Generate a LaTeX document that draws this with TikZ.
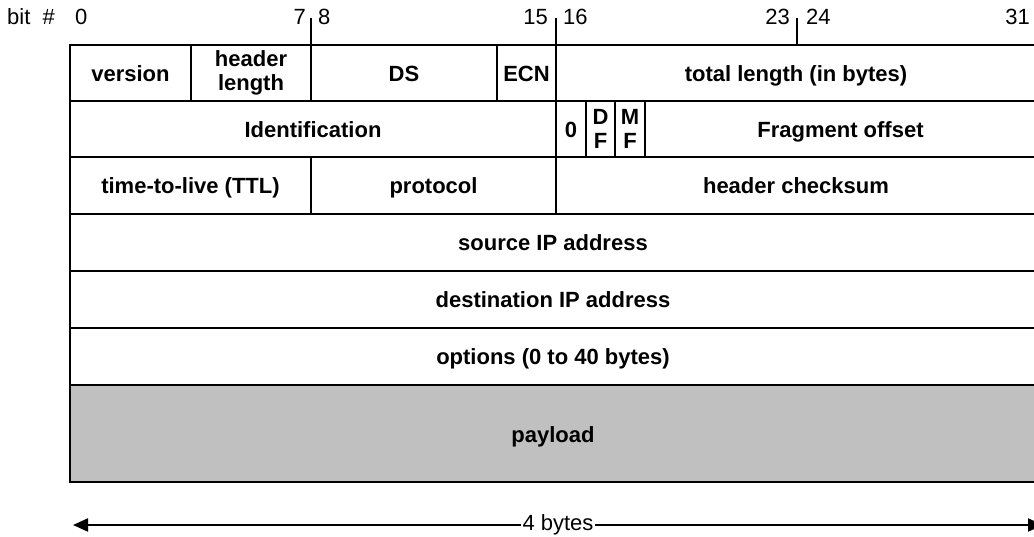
\documentclass[tikz,border=0pt]{standalone}
\usepackage{fontspec}
\setmainfont{Liberation Sans}
\usepackage{tikz}
\usetikzlibrary{
  arrows.meta,
  positioning
}
\definecolor{linecolor}{RGB}{0, 0, 0}
\definecolor{payloadcolor}{RGB}{192, 192, 192}
\definecolor{labelcolor}{RGB}{0, 0, 0}
\tikzset{
fieldtext/.style={
  align=center,
  font=\fontsize{22}{22}\selectfont\bfseries,
  text=labelcolor,
  text height=17pt,
  text depth=0pt
},
field/.style={
  draw=linecolor,
  line width=2pt,
  inner sep=0pt,
  outer sep=0pt,
  fieldtext
},
twolines/.style={
  font=\fontsize{22}{23.5}\selectfont\bfseries,
  text height=,
  text depth=
},
payloadfield/.style={
  field,
  fill=payloadcolor
},
bitlabel/.style={
  font=\fontsize{22}{24}\selectfont,
  text=labelcolor,
  inner sep=0pt
},
bittick/.style={
  draw=linecolor,
  line width=2pt
},
sizearrow/.style={
  {Triangle[length=15pt,width=13pt]}-{Triangle[length=15pt,width=13pt]},
  line width=2pt,
  draw=linecolor
}
}

\begin{document}
\begin{tikzpicture}[x=1pt, y=-1pt]
  \useasboundingbox (0,0) rectangle (1034,537);

  \node[bitlabel, anchor=base west] (bitno) at (7,25) {bit\hspace{6pt} \#};
  \node[bitlabel, anchor=base west] (b0) at (75,25) {0};
  \node[bitlabel, anchor=base east] (b7) at (306,25) {7};
  \node[bitlabel, anchor=base west] (b8) at (318,25) {8};
  \node[bitlabel, anchor=base east] (b15) at (548,25) {15};
  \node[bitlabel, anchor=base west] (b16) at (563,25) {16};
  \node[bitlabel, anchor=base east] (b23) at (790,25) {23};
  \node[bitlabel, anchor=base west] (b24) at (806,25) {24};
  \node[bitlabel, anchor=base east] (b31) at (1030,25) {31};

  \node[field, anchor=north west, minimum width=121pt, minimum height=56pt] (version) at (70,45) {version};
  \node[field, twolines, right=0pt of version, minimum width=120pt, minimum height=56pt] (hdrlen) {header\\length};
  \node[field, right=0pt of hdrlen, minimum width=186pt, minimum height=56pt] (ds) {DS};
  \node[field, right=0pt of ds, minimum width=59pt, minimum height=56pt] (ecn) {ECN};
  \node[field, right=0pt of ecn, minimum width=480pt, minimum height=56pt] (totlen) {total length (in bytes)};

  \node[field, anchor=north west, minimum width=486pt, minimum height=56pt] (ident) at (70,101) {Identification};
  \node[field, right=0pt of ident, minimum width=30pt, minimum height=56pt] (flagzero) {0};
  \node[field, twolines, right=0pt of flagzero, minimum width=29pt, minimum height=56pt] (flagdf) {D\\F};
  \node[field, twolines, right=0pt of flagdf, minimum width=30pt, minimum height=56pt] (flagmf) {M\\F};
  \node[field, right=0pt of flagmf, minimum width=391pt, minimum height=56pt] (fragoff) {Fragment offset};

  \node[field, anchor=north west, minimum width=241pt, minimum height=57pt] (ttl) at (70,157) {time-to-live (TTL)};
  \node[field, right=0pt of ttl, minimum width=245pt, minimum height=57pt] (proto) {protocol};
  \node[field, right=0pt of proto, minimum width=480pt, minimum height=57pt] (chksum) {header checksum};

  \node[field, anchor=north west, minimum width=966pt, minimum height=57pt] (srcip) at (70,214) {source IP address};
  \node[field, anchor=north west, minimum width=966pt, minimum height=57pt] (dstip) at (70,271) {destination IP address};
  \node[field, anchor=north west, minimum width=966pt, minimum height=57pt] (options) at (70,328) {options (0 to 40 bytes)};
  \node[payloadfield, anchor=north west, minimum width=966pt, minimum height=97pt] (payload) at (70,385) {payload};

  \coordinate (tick8) at (311,18);
  \coordinate (tick16) at (556,18);
  \coordinate (tick24) at (797,18);
  \draw[bittick] (tick8) -- (tick8 |- hdrlen.north);
  \draw[bittick] (tick16) -- (tick16 |- ecn.north);
  \draw[bittick] (tick24) -- (tick24 |- totlen.north);

  \coordinate (arrowleft) at (73,525);
  \coordinate (arrowright) at (1043,525);
  \draw[sizearrow] (arrowleft) -- (arrowright)
    node[midway, bitlabel, fill=white, inner xsep=2pt, inner ysep=2pt] (bytes) {4 bytes};
\end{tikzpicture}
\end{document}
